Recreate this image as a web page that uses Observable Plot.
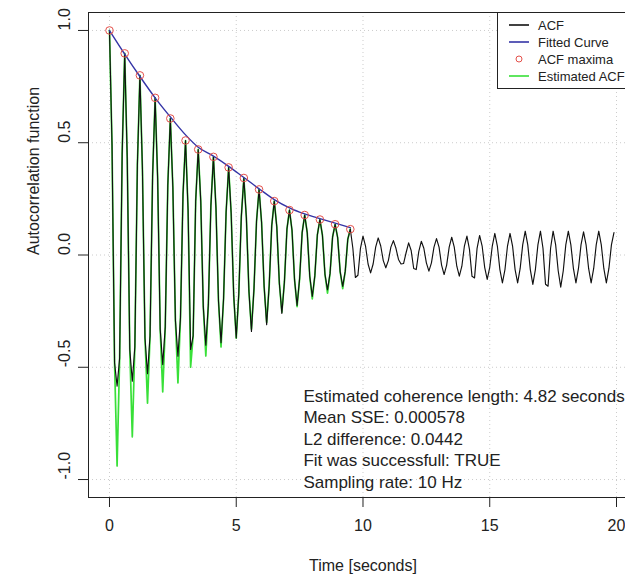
<!DOCTYPE html>
<html>
<head>
<meta charset="utf-8">
<script src="https://cdn.jsdelivr.net/npm/d3@7"></script>
<script src="https://cdn.jsdelivr.net/npm/@observablehq/plot@0.6"></script>
<style>
  html, body { margin: 0; padding: 0; background: #fff; overflow: hidden; }
  #wrap { position: relative; width: 625px; height: 580px; overflow: hidden; }
  #legend { position: absolute; left: 0; top: 0; }
</style>
</head>
<body>
<div id="wrap"></div>
<script>
// ---- data ----
const sampleRateHz = 10;

// ACF, 10 Hz samples from 0.0 to 19.9 s
const acfValues = [
  1.0, 0.49, -0.48, -0.584, -0.46, 0.45,
  0.898, 0.43, -0.42, -0.562, -0.41, 0.40,
  0.80, 0.38, -0.37, -0.529, -0.36, 0.35,
  0.70, 0.34, -0.33, -0.488, -0.32, 0.31,
  0.608, 0.30, -0.29, -0.451, -0.28, 0.27,
  0.51, 0.20, -0.421, -0.36, 0.24,
  0.47, 0.24, -0.23, -0.402, -0.22, 0.22,
  0.437, 0.21, -0.205, -0.391, -0.195, 0.19,
  0.39, 0.185, -0.18, -0.369, -0.175, 0.17,
  0.343, 0.165, -0.16, -0.34, -0.15, 0.15,
  0.292, 0.145, -0.14, -0.31, -0.135, 0.13,
  0.24, 0.125, -0.125, -0.26, -0.12, 0.115,
  0.20, 0.11, -0.11, -0.225, -0.105, 0.10,
  0.178, 0.10, -0.095, -0.185, -0.093, 0.09,
  0.158, 0.088, -0.086, -0.155, -0.082, 0.08,
  0.137, 0.078, -0.075, -0.14, -0.072, 0.07,
  0.115, 0.03, -0.10, -0.09, 0.03,
  0.084, 0.04, -0.04, -0.08, -0.04, 0.035,
  0.076, 0.04, -0.025, -0.057, -0.025, 0.035,
  0.064, 0.03, -0.02, -0.04, -0.038, 0.01,
  0.054, 0.02, -0.06, -0.065, 0.015,
  0.061, 0.03, -0.035, -0.072, -0.035, 0.035,
  0.073, 0.035, -0.045, -0.087, -0.045, 0.035,
  0.079, 0.035, -0.05, -0.094, -0.05, 0.04,
  0.084, 0.025, -0.095, -0.102, 0.03,
  0.087, 0.04, -0.055, -0.109, -0.055, 0.04,
  0.096, 0.04, -0.065, -0.124, -0.065, 0.04,
  0.096, 0.04, -0.065, -0.124, -0.06, 0.045,
  0.106, 0.045, -0.065, -0.131, -0.065, 0.045,
  0.106, 0.03, -0.13, -0.139, 0.03,
  0.106, 0.045, -0.07, -0.143, -0.07, 0.045,
  0.106, 0.045, -0.06, -0.124, -0.06, 0.045,
  0.103, 0.045, -0.06, -0.124, -0.06, 0.045,
  0.106, 0.045, -0.06, -0.124, -0.06, 0.045,
  0.10
];

// Estimated ACF, 10 Hz samples from 0.0 to 9.5 s
const estimatedAcf = [
  1.0, 0.49, -0.48, -0.94, -0.46, 0.45,
  0.898, 0.43, -0.42, -0.81, -0.41, 0.40,
  0.80, 0.38, -0.37, -0.66, -0.36, 0.35,
  0.70, 0.34, -0.33, -0.61, -0.32, 0.31,
  0.608, 0.30, -0.29, -0.57, -0.28, 0.27,
  0.51, 0.20, -0.50, -0.36, 0.24,
  0.47, 0.24, -0.23, -0.45, -0.22, 0.22,
  0.437, 0.21, -0.205, -0.41, -0.195, 0.19,
  0.39, 0.185, -0.18, -0.37, -0.175, 0.17,
  0.343, 0.165, -0.16, -0.33, -0.15, 0.15,
  0.292, 0.145, -0.14, -0.30, -0.135, 0.13,
  0.24, 0.125, -0.125, -0.255, -0.12, 0.115,
  0.20, 0.11, -0.11, -0.23, -0.105, 0.10,
  0.178, 0.10, -0.095, -0.195, -0.093, 0.09,
  0.158, 0.088, -0.086, -0.17, -0.082, 0.08,
  0.137, 0.078, -0.075, -0.15, -0.072, 0.07,
  0.115
];

// ACF maxima and the fitted curve through them
const maximaTime  = [0, 0.6, 1.2, 1.8, 2.4, 3.0, 3.5, 4.1, 4.7, 5.3, 5.9, 6.5, 7.1, 7.7, 8.3, 8.9, 9.5];
const maximaValue = [1.0, 0.898, 0.80, 0.70, 0.608, 0.51, 0.47, 0.437, 0.39, 0.343, 0.292, 0.24, 0.20, 0.178, 0.158, 0.137, 0.115];
const fittedValue = [1.0, 0.895, 0.795, 0.70, 0.615, 0.535, 0.48, 0.44, 0.395, 0.345, 0.295, 0.247, 0.21, 0.183, 0.162, 0.142, 0.122];

const xTicks = [0, 5, 10, 15, 20];
const yTicks = [-1.0, -0.5, 0.0, 0.5, 1.0];
const xLabel = "Time [seconds]";
const yLabel = "Autocorrelation function";

const annotationLines = [
  "Estimated coherence length: 4.82 seconds",
  "Mean SSE: 0.000578",
  "L2 difference: 0.0442",
  "Fit was successfull: TRUE",
  "Sampling rate: 10 Hz"
];

const legendLabels = ["ACF", "Fitted Curve", "ACF maxima", "Estimated ACF"];

// ---- styling ----
const colAcf = "#111111";
const colFit = "#3434a6";
const colMax = "#e4504a";
const colEst = "#38e038";
const colAxis = "#222222";
const colGrid = "#cccccc";
const font = "'Liberation Sans', Arial, Helvetica, sans-serif";

const xDomain = [-0.828, 20.355];
const yDomain = [-1.08, 1.08];
const tOf = (d, i) => i / sampleRateHz;

const plot = Plot.plot({
  width: 625,
  height: 580,
  marginLeft: 88,
  marginRight: 0,
  marginTop: 12,
  marginBottom: 83,
  style: { fontFamily: font, fontSize: "16px", color: colAxis, background: "white", overflow: "visible" },
  x: { domain: xDomain, ticks: xTicks, tickSize: 10, tickFormat: () => "", label: null },
  y: { domain: yDomain, ticks: yTicks, tickSize: 10, tickFormat: () => "", label: null },
  marks: [
    Plot.ruleX(xTicks, { stroke: colGrid, strokeDasharray: "1,3" }),
    Plot.ruleY(yTicks, { stroke: colGrid, strokeDasharray: "1,3" }),
    Plot.line(estimatedAcf, { x: tOf, y: d => d, stroke: colEst, strokeWidth: 1.7 }),
    Plot.line(acfValues, { x: tOf, y: d => d, stroke: colAcf, strokeWidth: 1.15 }),
    Plot.line(fittedValue, { x: (d, i) => maximaTime[i], y: d => d, stroke: colFit, strokeWidth: 1.4, curve: "monotone-x" }),
    Plot.dot(maximaValue, { x: (d, i) => maximaTime[i], y: d => d, r: 3.8, stroke: colMax, fill: "none", strokeWidth: 1 }),
    Plot.ruleX([xDomain[0]], { stroke: colAxis }),
    Plot.ruleY(yDomain, { stroke: colAxis }),
    Plot.text(yTicks, { y: d => d, text: d => d.toFixed(1), frameAnchor: "left", dx: -24, rotate: -90, fontSize: 16, fill: colAxis }),
    Plot.text(xTicks, { x: d => d, text: d => String(d), frameAnchor: "bottom", dy: 33, fontSize: 16, fill: colAxis }),
    Plot.text([xLabel], { x: () => (xTicks[0] + xTicks[xTicks.length - 1]) / 2, frameAnchor: "bottom", dy: 73, fontSize: 16, fill: colAxis }),
    Plot.text([yLabel], { frameAnchor: "left", dx: -55, rotate: -90, fontSize: 16, fill: colAxis }),
    Plot.text([annotationLines.join("\n")], { x: () => 7.65, y: () => -0.815, textAnchor: "start", lineAnchor: "middle", lineHeight: 1.27, fontSize: 17, fill: colAxis })
  ]
});

const wrap = document.getElementById("wrap");
wrap.appendChild(plot);

// ---- legend (top-right, inside the plot box) ----
const lg = d3.select(wrap).append("svg")
  .attr("id", "legend").attr("width", 625).attr("height", 580)
  .style("font-family", font).style("font-size", "13px");
const lx = 497.5, ly = 12.5, rowH = 17, row0 = 25;
lg.append("rect").attr("x", lx).attr("y", ly).attr("width", 200).attr("height", 76)
  .attr("fill", "white").attr("stroke", colAxis).attr("stroke-width", 1);
const legendColors = [colAcf, colFit, colMax, colEst];
legendLabels.forEach((lab, i) => {
  const y = row0 + i * rowH;
  if (i === 2) {
    lg.append("circle").attr("cx", 519).attr("cy", y).attr("r", 3).attr("fill", "none")
      .attr("stroke", legendColors[i]).attr("stroke-width", 1);
  } else {
    lg.append("line").attr("x1", 509).attr("x2", 529).attr("y1", y).attr("y2", y)
      .attr("stroke", legendColors[i]).attr("stroke-width", 1.6);
  }
  lg.append("text").attr("x", 538).attr("y", y).attr("dy", "0.35em").attr("fill", colAxis).text(lab);
});
</script>
</body>
</html>
